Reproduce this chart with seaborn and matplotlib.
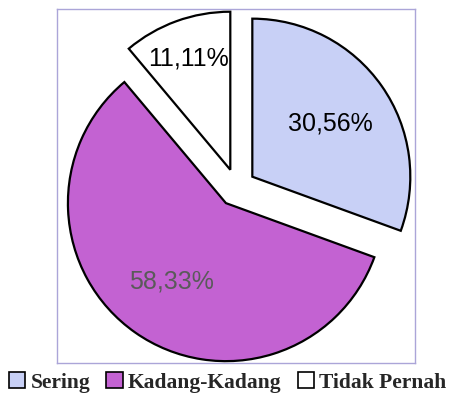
import matplotlib
matplotlib.use("Agg")
import matplotlib.pyplot as plt
import seaborn as sns

# data
categories = ["Sering", "Kadang-Kadang", "Tidak Pernah"]
persen = [30.56, 58.33, 11.11]
warna = ["#C8D0F6", "#C362D2", "#FFFFFF"]

sns.set_style("white")
plt.rcParams['font.family'] = ['Liberation Sans', 'DejaVu Sans']

fig = plt.figure(figsize=(4.51, 4.02), dpi=100)
ax = fig.add_axes([57/451, 38/402, 358/451, 354/402])

wedges, texts, autotexts = ax.pie(
    persen, colors=warna, startangle=90, counterclock=False,
    explode=[0.12, 0.12, 0.12],
    autopct=lambda p: f"{p:.2f}%".replace(".", ","),
    pctdistance=0.6,
    wedgeprops=dict(edgecolor="black", linewidth=1.6),
    textprops=dict(fontsize=18, color="black"))
for w in wedges:
    w.set_clip_on(False)

autotexts[1].set_color("#5a5a5a")
# move small slice label up toward the arc
x, y = autotexts[2].get_position()
autotexts[2].set_position((x * 1.25, y * 1.22))

ax.set_xlim(-1.138, 1.128)
ax.set_ylim(-1.110, 1.130)
ax.set_aspect("auto")
ax.set_frame_on(True)
for s in ax.spines.values():
    s.set_visible(True)
    s.set_color("#ABA5D8")
    s.set_linewidth(1.0)
    s.set_zorder(0)
ax.set_xticks([])
ax.set_yticks([])

leg = fig.legend(wedges, categories, loc="center", bbox_to_anchor=(0.505, 0.047),
                 ncol=3, frameon=False, handlelength=0.75, handleheight=0.75,
                 handletextpad=0.25, columnspacing=0.75,
                 prop=dict(family=["Liberation Serif", "DejaVu Serif"],
                           weight="bold", size=15.5))
for h in leg.legend_handles:
    h.set_linewidth(1.2)

fig.savefig("out.png", dpi=100)
